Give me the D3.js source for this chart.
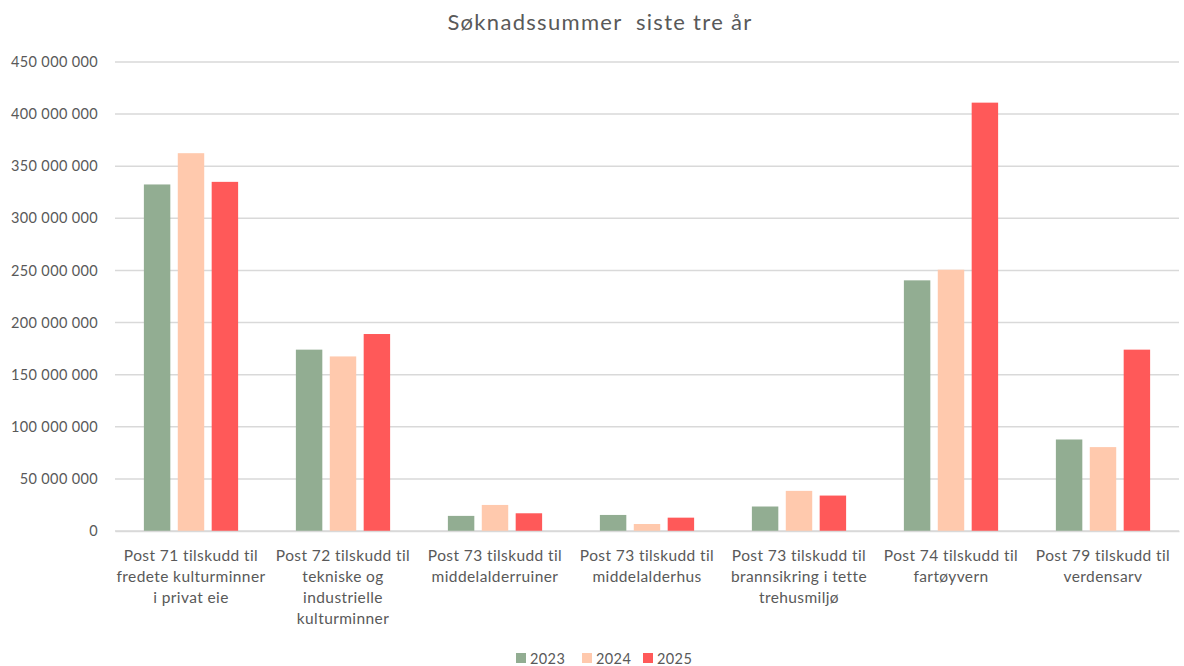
<!DOCTYPE html>
<html>
<head>
<meta charset="utf-8">
<script src="https://cdn.jsdelivr.net/npm/d3@7"></script>
<style>
  html, body { margin: 0; padding: 0; background: #ffffff; }
  svg { display: block; }
  text { font-family: Lato, "Open Sans", sans-serif; fill: #595959; }
</style>
</head>
<body>
<svg id="chart" width="1184" height="666"></svg>
<script>
const title = "Søknadssummer  siste tre år";
const categories = [
  "Post 71 tilskudd til\nfredete kulturminner\ni privat eie",
  "Post 72 tilskudd til\ntekniske og\nindustrielle\nkulturminner",
  "Post 73 tilskudd til\nmiddelalderruiner",
  "Post 73 tilskudd til\nmiddelalderhus",
  "Post 73 tilskudd til\nbrannsikring i tette\ntrehusmiljø",
  "Post 74 tilskudd til\nfartøyvern",
  "Post 79 tilskudd til\nverdensarv"
];
const years = ["2023", "2024", "2025"];
const values2023 = [332500000, 174000000, 14500000, 15400000, 23500000, 240500000, 87800000];
const values2024 = [362500000, 167500000, 25000000, 6700000, 38500000, 250700000, 80500000];
const values2025 = [335000000, 189000000, 17000000, 12800000, 34000000, 411000000, 174000000];
const yTicks = [0, 50000000, 100000000, 150000000, 200000000, 250000000, 300000000, 350000000, 400000000, 450000000];
const colors = ["#92ad92", "#ffc9ad", "#ff5959"];

const seriesValues = [values2023, values2024, values2025];

const svg = d3.select("#chart");
const plotLeft = 115, plotRight = 1179, plotTop = 62, plotBottom = 531;

const x0 = d3.scaleBand().domain(categories).range([plotLeft, plotRight]).paddingInner(0.38).paddingOuter(0.19);
const x1 = d3.scaleBand().domain(years).range([0, x0.bandwidth()]).paddingInner(0.22).paddingOuter(0);
const y = d3.scaleLinear().domain([0, 450000000]).range([plotBottom, plotTop]);

const fmt = v => d3.format(",")(v).replace(/,/g, " ");

// gridlines
svg.append("g").selectAll("line").data(yTicks).join("line")
  .attr("x1", plotLeft).attr("x2", plotRight)
  .attr("y1", d => y(d)).attr("y2", d => y(d))
  .attr("stroke", "#d9d9d9").attr("stroke-width", 1.5);

// y axis labels
const yAxis = d3.axisLeft(y).tickValues(yTicks).tickSize(0).tickPadding(0).tickFormat(fmt);
const yg = svg.append("g").attr("transform", "translate(98,0)").call(yAxis);
yg.select(".domain").remove();
yg.selectAll("text").style("font-size", "14.5px").style("letter-spacing", "0.35px")
  .attr("fill", "#595959").style("font-family", "Lato, sans-serif");

// bars
const groups = svg.append("g").selectAll("g").data(categories).join("g")
  .attr("transform", d => `translate(${x0(d)},0)`);
groups.selectAll("rect")
  .data((d, i) => years.map((yr, j) => ({ yr, v: seriesValues[j][i], c: colors[j] })))
  .join("rect")
  .attr("x", d => x1(d.yr))
  .attr("width", x1.bandwidth())
  .attr("y", d => y(d.v))
  .attr("height", d => y(0) - y(d.v))
  .attr("fill", d => d.c);

// x labels
const xAxis = d3.axisBottom(x0).tickSize(0).tickFormat("");
const xg = svg.append("g").attr("transform", `translate(0,${plotBottom})`).call(xAxis);
xg.select(".domain").attr("stroke", "#d9d9d9").attr("stroke-width", 1.5);
xg.selectAll(".tick").each(function(d) {
  const t = d3.select(this).append("text")
    .attr("text-anchor", "middle")
    .style("font-size", "15.5px")
    .style("letter-spacing", "0.4px")
    .attr("fill", "#595959");
  d.split("\n").forEach((line, i) => {
    t.append("tspan").attr("x", 0).attr("y", 29.5 + i * 21.3).text(line);
  });
});

// title
svg.append("text").attr("x", 600).attr("y", 30).attr("text-anchor", "middle")
  .style("font-size", "22px").style("letter-spacing", "1.3px").style("white-space", "pre").text(title);

// legend
const legendX = [516, 582, 643];
const lg = svg.append("g").selectAll("g").data(years).join("g")
  .attr("transform", (d, i) => `translate(${legendX[i]},0)`);
lg.append("rect").attr("x", 0).attr("y", 653).attr("width", 10).attr("height", 10)
  .attr("fill", (d, i) => colors[i]);
lg.append("text").attr("x", 14).attr("y", 664).style("font-size", "14.5px").style("letter-spacing", "0.4px").text(d => d);
</script>
</body>
</html>
